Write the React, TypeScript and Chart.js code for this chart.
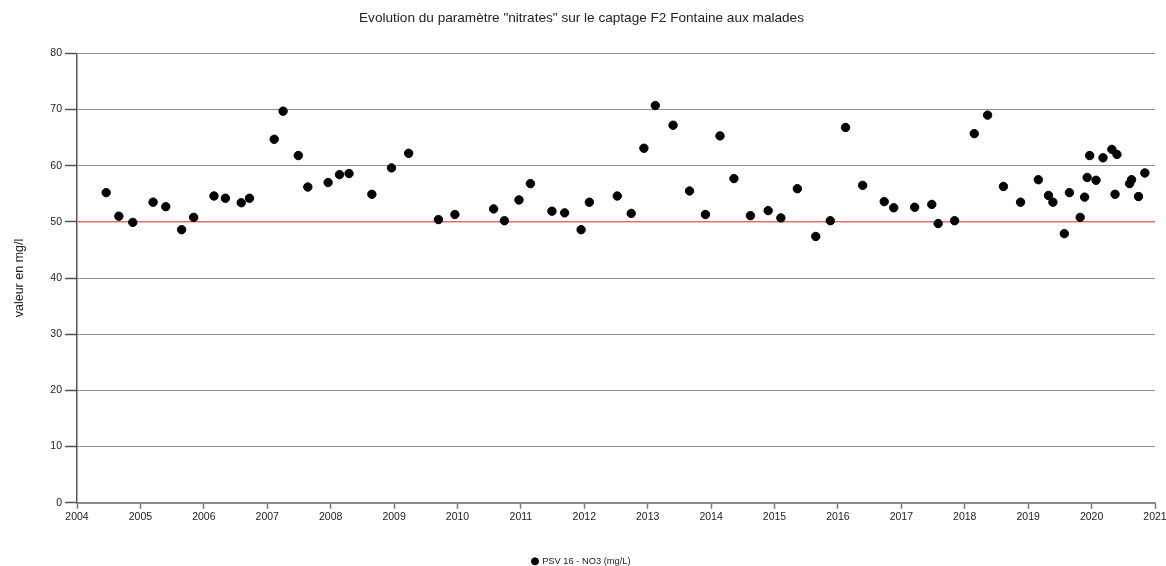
import React, { useEffect, useRef } from "react";
import { Chart, registerables } from "chart.js";

Chart.register(...registerables);

const chartTitle = 'Evolution du paramètre "nitrates" sur le captage F2 Fontaine aux malades';
const yAxisTitle = "valeur en mg/l";
const seriesLabel = "PSV 16 - NO3 (mg/L)";

const sampleYears = [
  2004.46, 2004.66, 2004.88, 2005.2, 2005.4, 2005.65, 2005.84, 2006.16, 2006.34, 2006.59, 2006.72,
  2007.11, 2007.25, 2007.49, 2007.64, 2007.96, 2008.14, 2008.29,
  2008.65, 2008.96, 2009.23, 2009.7, 2009.96, 2010.57, 2010.74, 2010.97, 2011.15, 2011.49, 2011.69,
  2011.95, 2012.08, 2012.52, 2012.74, 2012.94, 2013.12, 2013.4, 2013.66, 2013.91, 2014.14, 2014.36, 2014.62,
  2014.9, 2015.1, 2015.36, 2015.65, 2015.88, 2016.12, 2016.39, 2016.73, 2016.88, 2017.21, 2017.48,
  2017.58, 2017.84, 2018.15, 2018.36, 2018.61, 2018.88, 2019.16, 2019.32, 2019.39, 2019.57, 2019.65,
  2019.82, 2019.89, 2019.93, 2019.97, 2020.07, 2020.18, 2020.32, 2020.37, 2020.4, 2020.6, 2020.63,
  2020.74, 2020.84,
];

const nitrateValues = [
  55.2, 51.0, 49.9, 53.5, 52.7, 48.6, 50.8, 54.6, 54.2, 53.4, 54.2,
  64.7, 69.7, 61.8, 56.2, 57.0, 58.4, 58.6,
  54.9, 59.6, 62.2, 50.4, 51.3, 52.3, 50.2, 53.9, 56.8, 51.9, 51.6,
  48.6, 53.5, 54.6, 51.5, 63.1, 70.7, 67.2, 55.5, 51.3, 65.3, 57.7, 51.1,
  52.0, 50.7, 55.9, 47.4, 50.2, 66.8, 56.5, 53.6, 52.5, 52.6, 53.1,
  49.7, 50.2, 65.7, 69.0, 56.3, 53.5, 57.5, 54.7, 53.5, 47.9, 55.2,
  50.8, 54.4, 57.9, 61.8, 57.4, 61.4, 62.9, 54.9, 62.0, 56.8, 57.5,
  54.5, 58.7,
];

const xRange = [2004, 2021];
const yRange = [0, 80];
const yStep = 10;
const thresholdValue = 50;

export default function App() {
  const canvasRef = useRef<HTMLCanvasElement>(null);

  useEffect(() => {
    if (!canvasRef.current) return;
    const font = "'Liberation Sans', Arial, sans-serif";
    const chart = new Chart(canvasRef.current, {
      type: "scatter",
      data: {
        datasets: [
          {
            label: seriesLabel,
            data: sampleYears.map((x, i) => ({ x, y: nitrateValues[i] })),
            backgroundColor: "#000",
            borderColor: "#000",
            pointRadius: 4.2,
            pointHoverRadius: 4.2,
            showLine: false,
          },
          {
            label: "seuil",
            type: "line",
            data: [
              { x: xRange[0], y: thresholdValue },
              { x: xRange[1], y: thresholdValue },
            ],
            borderColor: "rgba(238,100,100,0.9)",
            borderWidth: 1.5,
            pointRadius: 0,
            showLine: true,
          } as any,
        ],
      },
      options: {
        animation: false,
        responsive: false,
        maintainAspectRatio: false,
        layout: { padding: { left: 8, right: 11, top: 0, bottom: -10 } },
        plugins: {
          title: {
            display: true,
            text: chartTitle,
            color: "#222",
            font: { family: font, size: 13.6, weight: "normal" },
            padding: { top: 10, bottom: 27 },
          },
          legend: {
            position: "bottom",
            labels: {
              filter: (item) => item.text === seriesLabel,
              usePointStyle: true,
              pointStyle: "circle",
              boxWidth: 5,
              boxHeight: 5,
              color: "#222",
              font: { family: font, size: 9.3 },
              padding: 2,
            },
          },
          tooltip: { enabled: false },
        },
        scales: {
          x: {
            type: "linear",
            min: xRange[0],
            max: xRange[1],
            ticks: {
              stepSize: 1,
              color: "#222",
              font: { family: font, size: 10.5 },
              padding: 2,
              callback: (v) => String(v),
            },
            grid: {
              display: true,
              drawOnChartArea: false,
              drawTicks: true,
              tickLength: 6,
              tickColor: "#777",
              tickWidth: 1.5,
            },
            border: { display: true, color: "#888", width: 2 },
            afterFit: (scale: any) => {
              scale.height = 52;
              scale.paddingRight = 0;
              scale.paddingLeft = 0;
            },
          },
          y: {
            min: yRange[0],
            max: yRange[1],
            ticks: {
              stepSize: yStep,
              color: "#222",
              font: { family: font, size: 10.5 },
              padding: 3,
            },
            grid: {
              color: "#222",
              lineWidth: 1,
              drawTicks: true,
              tickLength: 12,
              tickColor: "#555",
              tickWidth: 1.5,
              tickBorderDash: [],
            },
            border: { display: true, color: "#555", width: 1.5, dash: [1, 1] },
            title: {
              display: true,
              text: yAxisTitle,
              color: "#222",
              font: { family: font, size: 12.5 },
              padding: { top: 4, bottom: 0 },
            },
            afterFit: (scale: any) => {
              scale.width = 69;
            },
          },
        },
      },
    });
    return () => chart.destroy();
  }, []);

  return (
    <div style={{ position: "fixed", left: 0, top: 0, width: 1166, height: 566, background: "#fff" }}>
      <canvas ref={canvasRef} width={1166} height={566} style={{ display: "block" }} />
    </div>
  );
}
